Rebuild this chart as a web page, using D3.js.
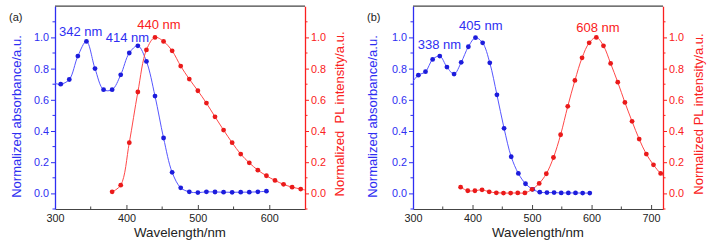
<!DOCTYPE html>
<html>
<head>
<meta charset="utf-8">
<script src="https://cdn.jsdelivr.net/npm/d3@7"></script>
<style>
  body { margin: 0; background: #fff; }
  svg { display: block; font-family: "Liberation Sans", Arial, sans-serif; }
</style>
</head>
<body>
<svg id="chart" width="711" height="249"></svg>
<script>
// ---- Data: panel (a) ----
const absAWl = [308, 320, 332, 344, 356, 368, 380, 392, 404, 416, 428, 440, 452, 464, 476, 488, 500, 512, 524, 536, 548, 560, 572, 584, 596];
const absAVal = [0.70, 0.73, 0.88, 0.974, 0.80, 0.665, 0.665, 0.76, 0.90, 0.946, 0.846, 0.624, 0.355, 0.135, 0.036, 0.01, 0.005, 0.01, 0.009, 0.008, 0.007, 0.008, 0.008, 0.01, 0.014];
const absAStart = [300, 0.705];

const plAWl = [380, 392, 404, 416, 428, 440, 452, 464, 476, 488, 500, 512, 524, 536, 548, 560, 572, 584, 596, 608, 620, 632, 644];
const plAVal = [0.01, 0.053, 0.325, 0.65, 0.92, 1.0, 0.974, 0.914, 0.816, 0.733, 0.658, 0.579, 0.491, 0.406, 0.325, 0.252, 0.196, 0.149, 0.113, 0.083, 0.058, 0.04, 0.028];
const plAEnd = [650, 0.022];

const peaksA = [
  { label: '342 nm', wl: 336, val: 1.01, color: 'blue' },
  { label: '414 nm', wl: 401.5, val: 0.973, color: 'blue' },
  { label: '440 nm', wl: 445.6, val: 1.057, color: 'red' }
];

// ---- Data: panel (b) ----
const absBWl = [309, 321, 333, 345, 357, 369, 381, 393, 405, 417, 429, 441, 453, 465, 477, 489, 501, 513, 525, 537, 549, 561, 573, 585, 597];
const absBVal = [0.758, 0.78, 0.859, 0.88, 0.81, 0.765, 0.84, 0.94, 0.998, 0.965, 0.837, 0.632, 0.417, 0.235, 0.128, 0.062, 0.026, 0.008, 0.005, 0.005, 0.003, 0.003, 0.003, 0.002, 0.002];
const absBStart = [300, 0.72];

const plBWl = [380, 392, 404, 416, 428, 440, 452, 464, 476, 488, 500, 512, 524, 536, 548, 560, 572, 584, 596, 608, 620, 632, 644, 656, 668, 680, 692, 704, 716];
const plBVal = [0.04, 0.017, 0.017, 0.023, 0.01, 0.004, 0.002, 0.002, 0.003, 0.003, 0.026, 0.064, 0.126, 0.23, 0.376, 0.558, 0.724, 0.869, 0.965, 1.0, 0.946, 0.833, 0.713, 0.583, 0.462, 0.348, 0.252, 0.183, 0.128];
const plBEnd = [724, 0.105];

const peaksB = [
  { label: '338 nm', wl: 344.4, val: 0.928, color: 'blue' },
  { label: '405 nm', wl: 413.9, val: 1.05, color: 'blue' },
  { label: '608 nm', wl: 610.7, val: 1.037, color: 'red' }
];

// ---- Tick values ----
const yMajor = [0, 0.2, 0.4, 0.6, 0.8, 1.0];
const yMinor = [-0.1, 0.1, 0.3, 0.5, 0.7, 0.9, 1.1];
const xMajorA = [300, 400, 500, 600];
const xMinorA = [350, 450, 550];
const xMajorB = [300, 400, 500, 600, 700];
const xMinorB = [350, 450, 550, 650];

const C = {
  blueText: '#2e2ef2', blueLine: '#5656ff', blueDot: '#1c1cdc',
  redText: '#fa2020', redLine: '#ff4848', redDot: '#ea1a1a',
  frame: '#444', text: '#222'
};

const svg = d3.select('#chart');

function drawPanel(p) {
  const x = d3.scaleLinear().domain(p.xDomain).range([p.left, p.right]);
  const y = d3.scaleLinear().domain([-0.1, 1.2]).range([209, 6.2]);
  const g = svg.append('g');

  const clipId = 'clip-' + p.tag;
  svg.append('defs').append('clipPath').attr('id', clipId)
    .append('rect')
    .attr('x', p.left).attr('y', y(1.2))
    .attr('width', p.right - p.left).attr('height', y(-0.1) - y(1.2));

  // ---- Frame top ----
  g.append('line')
    .attr('x1', p.left).attr('x2', p.right)
    .attr('y1', y(1.2)).attr('y2', y(1.2))
    .attr('stroke', C.frame).attr('stroke-width', 1.2);

  // ---- Bottom axis (ticks pointing in) ----
  const xAxis = d3.axisBottom(x)
    .tickValues(p.xMajor)
    .tickFormat(d3.format('d'))
    .tickSizeInner(-4).tickSizeOuter(0)
    .tickPadding(5.5);
  const xg = g.append('g')
    .attr('transform', `translate(0,${y(-0.1)})`)
    .call(xAxis);
  xg.select('.domain').attr('stroke', C.frame).attr('stroke-width', 1.2);
  xg.selectAll('.tick line').attr('stroke', C.frame);
  xg.selectAll('text').attr('fill', C.text).attr('font-size', '10.8px').attr('font-family', null);
  xg.selectAll('.minor').data(p.xMinor).join('line')
    .attr('x1', d => x(d)).attr('x2', d => x(d))
    .attr('y1', 0).attr('y2', -2.5)
    .attr('stroke', C.frame);

  g.append('text')
    .attr('x', (p.left + p.right) / 2).attr('y', 236.5)
    .attr('text-anchor', 'middle')
    .attr('font-size', '13.3px').attr('fill', C.text)
    .text('Wavelength/nm');

  // ---- Left axis (blue) ----
  const yLeft = d3.axisLeft(y)
    .tickValues(yMajor)
    .tickFormat(d3.format('.1f'))
    .tickSizeInner(4).tickSizeOuter(0)
    .tickPadding(2);
  const lg = g.append('g').attr('transform', `translate(${p.left},0)`).call(yLeft);
  lg.select('.domain').attr('stroke', C.blueText).attr('stroke-width', 1.3);
  lg.selectAll('.tick line').attr('stroke', C.blueText);
  lg.selectAll('text').attr('fill', C.blueText).attr('font-size', '10.8px').attr('font-family', null);
  lg.selectAll('.minor').data(yMinor).join('line')
    .attr('x1', 0).attr('x2', -2.5)
    .attr('y1', d => y(d)).attr('y2', d => y(d))
    .attr('stroke', C.blueText);

  g.append('text')
    .attr('transform', `translate(${p.leftTitleX},116.5) rotate(-90)`)
    .attr('text-anchor', 'middle')
    .attr('font-size', '13px').attr('fill', C.blueText)
    .text('Normalized absorbance/a.u.');

  // ---- Right axis (red) ----
  const yRight = d3.axisRight(y)
    .tickValues(yMajor)
    .tickFormat(d3.format('.1f'))
    .tickSizeInner(4).tickSizeOuter(0)
    .tickPadding(2);
  const rg = g.append('g').attr('transform', `translate(${p.right},0)`).call(yRight);
  rg.select('.domain').attr('stroke', C.redText).attr('stroke-width', 1.3);
  rg.selectAll('.tick line').attr('stroke', C.redText);
  rg.selectAll('text').attr('fill', C.redText).attr('font-size', '10.8px').attr('font-family', null);
  rg.selectAll('.minor').data(yMinor).join('line')
    .attr('x1', 0).attr('x2', 2.5)
    .attr('y1', d => y(d)).attr('y2', d => y(d))
    .attr('stroke', C.redText);

  g.append('text')
    .attr('transform', `translate(${p.rightTitleX},114) rotate(-90)`)
    .attr('text-anchor', 'middle')
    .attr('font-size', '13px').attr('fill', C.redText)
    .text(p.rightTitle);

  // ---- Panel tag ----
  g.append('text')
    .attr('x', p.tagX).attr('y', 21)
    .attr('font-size', '11px').attr('fill', C.text)
    .text(`(${p.tag})`);

  // ---- Curves ----
  const lineGen = d3.line()
    .x(d => x(d[0])).y(d => y(d[1]))
    .curve(d3.curveCatmullRom.alpha(0.5));

  const absPts = p.absWl.map((w, i) => [w, p.absVal[i]]);
  const plPts = p.plWl.map((w, i) => [w, p.plVal[i]]);

  const curves = g.append('g').attr('clip-path', `url(#${clipId})`);

  curves.append('path')
    .datum([p.absStart, ...absPts])
    .attr('d', lineGen)
    .attr('fill', 'none').attr('stroke', C.blueLine).attr('stroke-width', 1);

  curves.append('path')
    .datum([...plPts, p.plEnd])
    .attr('d', lineGen)
    .attr('fill', 'none').attr('stroke', C.redLine).attr('stroke-width', 1);

  curves.selectAll('.abs-dot').data(absPts).join('circle')
    .attr('class', 'abs-dot')
    .attr('cx', d => x(d[0])).attr('cy', d => y(d[1]))
    .attr('r', 2.4).attr('fill', C.blueDot);

  curves.selectAll('.pl-dot').data(plPts).join('circle')
    .attr('class', 'pl-dot')
    .attr('cx', d => x(d[0])).attr('cy', d => y(d[1]))
    .attr('r', 2.4).attr('fill', C.redDot);

  // ---- Peak labels ----
  g.selectAll('.peak').data(p.peaks).join('text')
    .attr('class', 'peak')
    .attr('x', d => x(d.wl)).attr('y', d => y(d.val))
    .attr('text-anchor', 'middle')
    .attr('font-size', '13px')
    .attr('fill', d => d.color === 'blue' ? C.blueText : C.redText)
    .text(d => d.label);
}

drawPanel({
  tag: 'a', tagX: 9, left: 55, right: 305, xDomain: [300, 650],
  xMajor: xMajorA, xMinor: xMinorA,
  absWl: absAWl, absVal: absAVal, absStart: absAStart,
  plWl: plAWl, plVal: plAVal, plEnd: plAEnd,
  peaks: peaksA, leftTitleX: 20.5, rightTitleX: 344,
  rightTitle: 'Normalized\u00a0\u00a0PL intensity/a.u.'
});

drawPanel({
  tag: 'b', tagX: 367, left: 413, right: 663, xDomain: [300, 720],
  xMajor: xMajorB, xMinor: xMinorB,
  absWl: absBWl, absVal: absBVal, absStart: absBStart,
  plWl: plBWl, plVal: plBVal, plEnd: plBEnd,
  peaks: peaksB, leftTitleX: 377, rightTitleX: 702.5,
  rightTitle: 'Normalized PL intensity/a.u.'
});
</script>
</body>
</html>
